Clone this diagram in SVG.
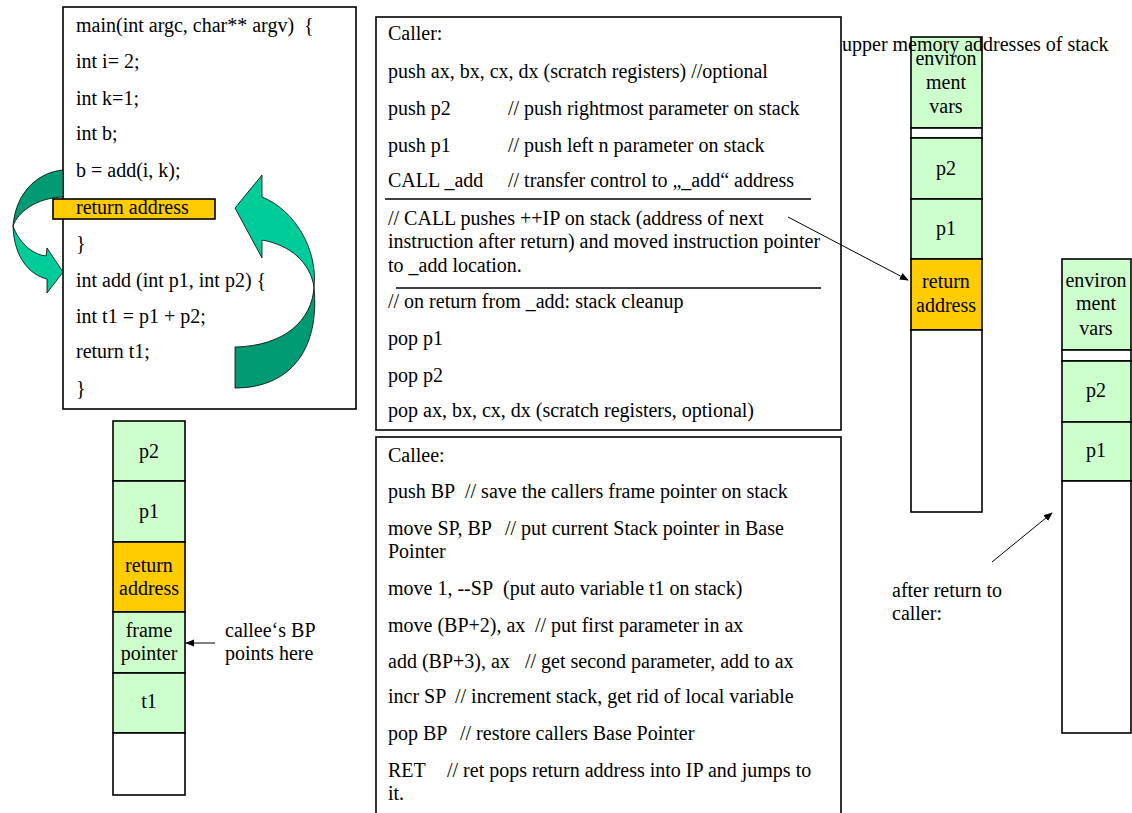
<svg xmlns="http://www.w3.org/2000/svg" width="1132" height="813" viewBox="0 0 1132 813">
<style>
text{font-size:20px;fill:#000;white-space:pre}
.c{text-anchor:middle}
.box{fill:#fff;stroke:#000;stroke-width:1.6}
.g{fill:#ccffcc;stroke:#000;stroke-width:1.6}
.o{fill:#ffcc00;stroke:#000;stroke-width:1.6}
.w{fill:#fff;stroke:#000;stroke-width:1.6}
.sep{stroke:#000;stroke-width:1.4}
.lt{fill:#00cc99;stroke:#000;stroke-width:0.8}
.dk{fill:#009b73;stroke:#000;stroke-width:0.8}
.con{stroke:#000;stroke-width:1;fill:none}
</style>
<defs>
<marker id="ah" viewBox="0 0 10 10" refX="9" refY="5" markerWidth="9" markerHeight="9" markerUnits="userSpaceOnUse" orient="auto">
<path d="M0,1 L10,5 L0,9 Z" fill="#000"/>
</marker>
</defs>
<rect width="1132" height="813" fill="#fff"/>
<g font-family="'Liberation Serif', 'Times New Roman', Times, 'DejaVu Serif', serif">

<g id="code">
<rect class="box" x="63" y="7" width="293" height="402"/>
<rect class="o" x="53" y="199" width="162" height="20"/>
<text x="76" y="32">main(int argc, char** argv)  {</text>
<text x="76" y="68">int i= 2;</text>
<text x="76" y="105">int k=1;</text>
<text x="76" y="140">int b;</text>
<text x="76" y="177">b = add(i, k);</text>
<text x="76" y="214">return address</text>
<text x="76" y="250">}</text>
<text x="76" y="287">int add (int p1, int p2) {</text>
<text x="76" y="323">int t1 = p1 + p2;</text>
<text x="76" y="358">return t1;</text>
<text x="76" y="395">}</text>
</g>

<g id="call-arrow">
<path class="dk" d="M63,170 C40,172 16,190 13,226 C18,212 36,198 63,197 Z"/>
<path class="lt" d="M13,226 C18,240 30,254 46,256 L47,248 L63,272 L47,293 L47,279 C30,275 14,258 13,226 Z"/>
</g>
<g id="return-arrow">
<path class="dk" d="M314,287 C312,320 285,346 235,347 L235,388 C290,388 320,350 314,287 Z"/>
<path class="lt" d="M314,287 C310,262 290,245 262,240 L262,258 L235,208 L262,175 L262,197 C295,210 318,250 314,287 Z"/>
</g>

<g id="caller">
<rect class="box" x="376" y="17" width="465" height="413"/>
<text x="388" y="40">Caller:</text>
<text x="388" y="78">push ax, bx, cx, dx (scratch registers) //optional</text>
<text x="388" y="115">push p2</text><text x="508" y="115">// push rightmost parameter on stack</text>
<text x="388" y="152">push p1</text><text x="508" y="152">// push left n parameter on stack</text>
<text x="388" y="187">CALL _add</text><text x="508" y="187">// transfer control to „_add“ address</text>
<line class="sep" x1="385" y1="199" x2="811" y2="199"/>
<text x="388" y="225">// CALL pushes ++IP on stack (address of next</text>
<text x="388" y="248">instruction after return) and moved instruction pointer</text>
<text x="388" y="272">to _add location.</text>
<line class="sep" x1="396" y1="288" x2="821" y2="288"/>
<text x="388" y="308">// on return from _add: stack cleanup</text>
<text x="388" y="345">pop p1</text>
<text x="388" y="382">pop p2</text>
<text x="388" y="417">pop ax, bx, cx, dx (scratch registers, optional)</text>
</g>

<g id="callee">
<rect class="box" x="376" y="437" width="465" height="390"/>
<text x="388" y="462">Callee:</text>
<text x="388" y="498">push BP</text><text x="465" y="498">// save the callers frame pointer on stack</text>
<text x="388" y="535">move SP, BP</text><text x="505" y="535">// put current Stack pointer in Base</text>
<text x="388" y="558">Pointer</text>
<text x="388" y="595">move 1, --SP</text><text x="503" y="595">(put auto variable t1 on stack)</text>
<text x="388" y="632">move (BP+2), ax</text><text x="535" y="632">// put first parameter in ax</text>
<text x="388" y="668">add (BP+3), ax</text><text x="525" y="668">// get second parameter, add to ax</text>
<text x="388" y="703">incr SP</text><text x="455" y="703">// increment stack, get rid of local variable</text>
<text x="388" y="740">pop BP</text><text x="460" y="740">// restore callers Base Pointer</text>
<text x="388" y="777">RET</text><text x="447" y="777">// ret pops return address into IP and jumps to</text>
<text x="388" y="800">it.</text>
</g>

<g id="stack-callee">
<rect class="g" x="113" y="421" width="72" height="60"/>
<rect class="g" x="113" y="481" width="72" height="61"/>
<rect class="o" x="113" y="542" width="72" height="70"/>
<rect class="g" x="113" y="612" width="72" height="61"/>
<rect class="g" x="113" y="673" width="72" height="60"/>
<rect class="w" x="113" y="733" width="72" height="62"/>
<text class="c" x="149" y="458">p2</text>
<text class="c" x="149" y="518">p1</text>
<text class="c" x="149" y="572">return</text>
<text class="c" x="149" y="595">address</text>
<text class="c" x="149" y="637">frame</text>
<text class="c" x="149" y="660">pointer</text>
<text class="c" x="149" y="708">t1</text>
</g>

<g id="bp-label">
<text x="225" y="637">callee‘s BP</text>
<text x="225" y="660">points here</text>
</g>

<g id="stack-call">
<rect class="g" x="911" y="37" width="71" height="91"/>
<rect class="w" x="911" y="128" width="71" height="10"/>
<rect class="g" x="911" y="138" width="71" height="61"/>
<rect class="g" x="911" y="199" width="71" height="60"/>
<rect class="o" x="911" y="259" width="71" height="71"/>
<rect class="w" x="911" y="330" width="71" height="182"/>
<text class="c" x="946" y="65">environ</text>
<text class="c" x="946" y="89">ment</text>
<text class="c" x="946" y="113">vars</text>
<text class="c" x="946" y="175">p2</text>
<text class="c" x="946" y="235">p1</text>
<text class="c" x="946" y="288">return</text>
<text class="c" x="946" y="312">address</text>
</g>

<g id="stack-after">
<rect class="g" x="1062" y="259" width="69" height="91"/>
<rect class="w" x="1062" y="350" width="69" height="11"/>
<rect class="g" x="1062" y="361" width="69" height="61"/>
<rect class="g" x="1062" y="422" width="69" height="59"/>
<rect class="w" x="1062" y="481" width="69" height="252"/>
<text class="c" x="1096" y="287">environ</text>
<text class="c" x="1096" y="310">ment</text>
<text class="c" x="1096" y="335">vars</text>
<text class="c" x="1096" y="397">p2</text>
<text class="c" x="1096" y="457">p1</text>
</g>

<g id="upper-label">
<text x="842" y="51">upper memory addresses of stack</text>
</g>

<g id="after-label">
<text x="892" y="597">after return to</text>
<text x="892" y="620">caller:</text>
</g>

<g id="connectors">
<line class="con" x1="788" y1="217" x2="908" y2="280" marker-end="url(#ah)"/>
<line class="con" x1="215" y1="643" x2="186" y2="643" marker-end="url(#ah)"/>
<line class="con" x1="992" y1="562" x2="1052" y2="513" marker-end="url(#ah)"/>
</g>
</g>
</svg>
